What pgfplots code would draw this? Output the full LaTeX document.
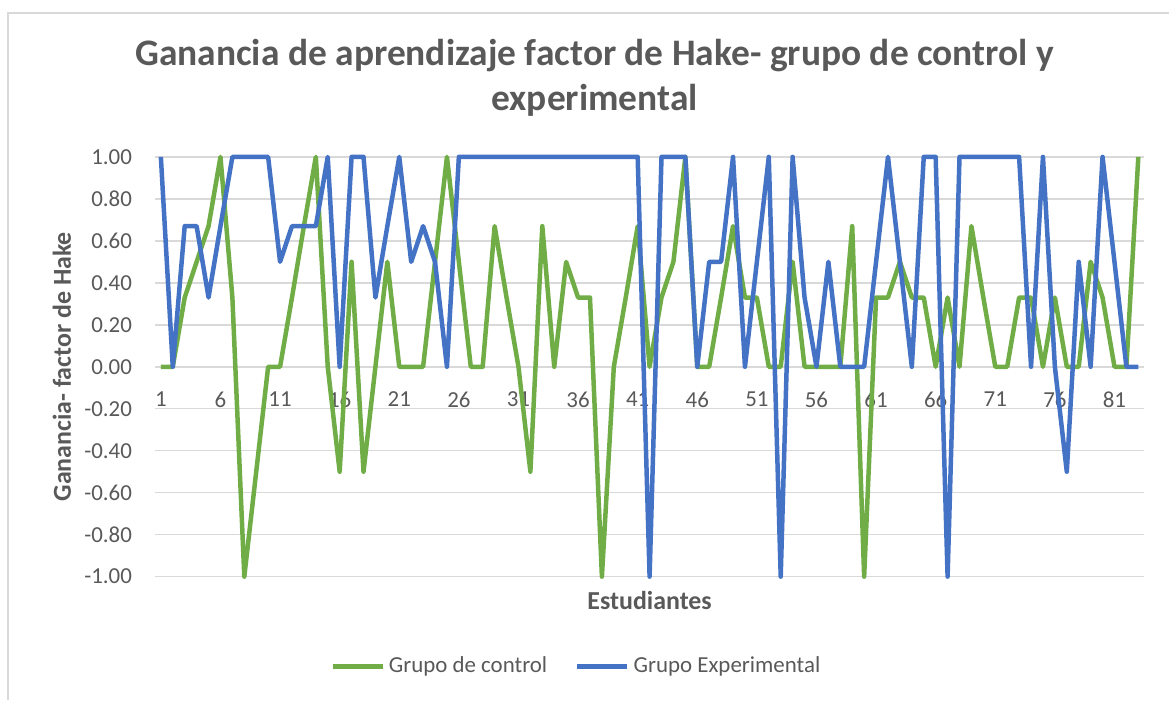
\documentclass[border=0pt]{standalone}
\usepackage{pgfplots}
\pgfplotsset{compat=1.18}
\usepackage{pgfplotstable}
\usepackage{fontspec}
\setmainfont{Carlito}
\definecolor{ctrl}{HTML}{70AD47}
\definecolor{expe}{HTML}{4472C4}
\definecolor{gridc}{HTML}{D9D9D9}
\definecolor{txt}{HTML}{595959}
\pgfplotstableread{
x g b
1 0 1
2 0 0
3 0.33 0.67
4 0.5 0.67
5 0.67 0.33
6 1 0.67
7 0.33 1
8 -1 1
9 -0.5 1
10 0 1
11 0 0.5
12 0.33 0.67
13 0.67 0.67
14 1 0.67
15 0 1
16 -0.5 0
17 0.5 1
18 -0.5 1
19 0 0.33
20 0.5 0.67
21 0 1
22 0 0.5
23 0 0.67
24 0.5 0.5
25 1 0
26 0.5 1
27 0 1
28 0 1
29 0.67 1
30 0.33 1
31 0 1
32 -0.5 1
33 0.67 1
34 0 1
35 0.5 1
36 0.33 1
37 0.33 1
38 -1 1
39 0 1
40 0.33 1
41 0.67 1
42 0 -1
43 0.33 1
44 0.5 1
45 1 1
46 0 0
47 0 0.5
48 0.33 0.5
49 0.67 1
50 0.33 0
51 0.33 0.5
52 0 1
53 0 -1
54 0.5 1
55 0 0.33
56 0 0
57 0 0.5
58 0 0
59 0.67 0
60 -1 0
61 0.33 0.5
62 0.33 1
63 0.5 0.5
64 0.33 0
65 0.33 1
66 0 1
67 0.33 -1
68 0 1
69 0.67 1
70 0.33 1
71 0 1
72 0 1
73 0.33 1
74 0.33 0
75 0 1
76 0.33 0
77 0 -0.5
78 0 0.5
79 0.5 0
80 0.33 1
81 0 0.5
82 0 0
83 1 0
}\data
\begin{document}
\begin{tikzpicture}
\path (0bp,0bp) rectangle (585bp,-350bp);
\draw[gridc, line width=0.75bp] (4bp,-350bp) -- (4bp,-6.5bp) -- (585bp,-6.5bp);
\node[txt, font=\fontsize{18.8}{22}\selectfont\bfseries, anchor=base] at (297.5bp,-33bp) {Ganancia de aprendizaje factor de Hake- grupo de control y};
\node[txt, font=\fontsize{18.8}{22}\selectfont\bfseries, anchor=base] at (297.5bp,-55.5bp) {experimental};
\begin{axis}[
  at={(77.5bp,-288.5bp)}, anchor=south west,
  scale only axis, width=495bp, height=210bp,
  xmin=0.5, xmax=83.5, ymin=-1, ymax=1,
  axis x line=middle, axis y line=left,
  axis line style={draw=none},
  hide obscured x ticks=false,
  hide obscured y ticks=false,
  clip=false,
  major tick length=0pt,
  ymajorgrids, grid style={gridc, line width=0.75bp},
  ytick={-1,-0.8,-0.6,-0.4,-0.2,0,0.2,0.4,0.6,0.8,1},
  yticklabels={-1.00,-0.80,-0.60,-0.40,-0.20,0.00,0.20,0.40,0.60,0.80,1.00},
  xtick={1,6,11,16,21,26,31,36,41,46,51,56,61,66,71,76,81},
  xticklabels={1,6,11,16,21,26,31,36,41,46,51,56,61,66,71,76,81},
  tick label style={txt, font=\fontsize{11.5}{13}\selectfont},
  yticklabel style={xshift=-8bp},
  xticklabel style={yshift=-9bp},
  xlabel={Estudiantes},
  xlabel style={txt, font=\fontsize{13}{15}\selectfont\bfseries, at={(axis description cs:0.5,0)}, anchor=north, yshift=-4bp},
  ylabel={Ganancia- factor de Hake},
  ylabel style={txt, font=\fontsize{13}{15}\selectfont\bfseries, at={(axis description cs:0,0.5)}, anchor=center, rotate=0, yshift=46.5bp},
  legend style={draw=none, fill=none, at={(axis description cs:0.427,-0.214)}, anchor=center,
    legend columns=2, font=\fontsize{11.5}{13}\selectfont, text=txt,
    /tikz/every even column/.append style={column sep=12bp}},
  legend cell align=left,
  legend image code/.code={\draw[#1] (0bp,0bp) -- (25bp,0bp);},
]
\addplot[ctrl, line width=2.25bp, line join=round, no markers] table[x=x,y=g]{\data};
\addlegendentry{Grupo de control}
\addplot[expe, line width=2.25bp, line join=round, no markers] table[x=x,y=b]{\data};
\addlegendentry{Grupo Experimental}
\end{axis}
\end{tikzpicture}
\end{document}
